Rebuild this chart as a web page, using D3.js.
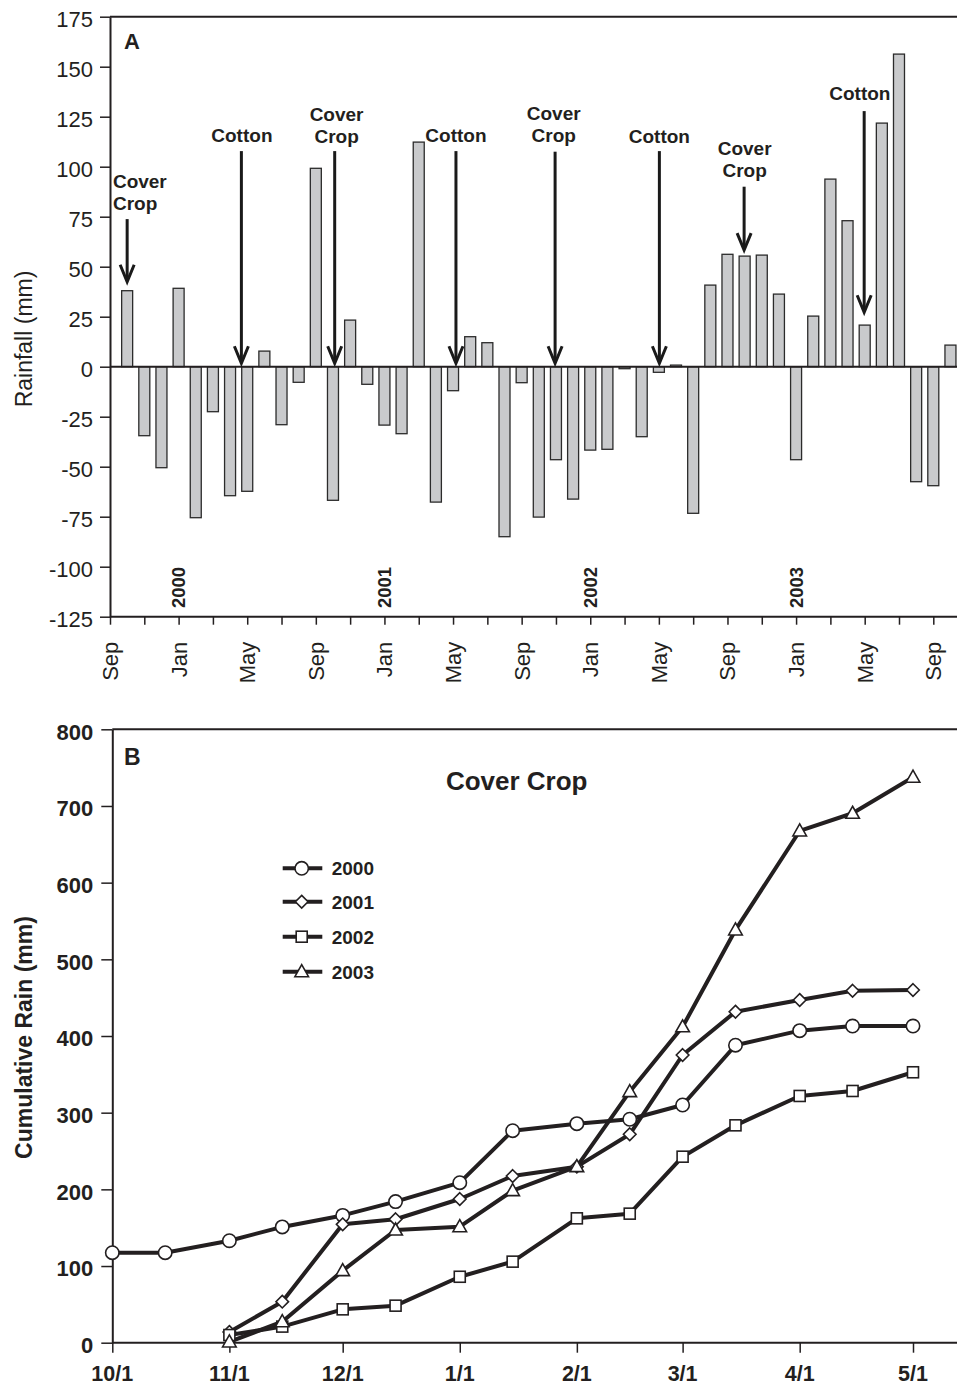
<!DOCTYPE html>
<html><head><meta charset="utf-8">
<script src="https://cdn.jsdelivr.net/npm/d3@7"></script>
<style>
body{margin:0;background:#fff}
svg{display:block}
text{font-family:"Liberation Sans",Arial,Helvetica,sans-serif;fill:#231f20}
</style>
</head><body>
<svg id="c" width="957" height="1386"></svg>
<script>
// ---------- Panel A data ----------
const rainFirstMonth = new Date(1999, 9, 1);   // Oct 1999
const rainLastMonth  = new Date(2003, 9, 1);   // Oct 2003
const rainfall = [38, -34.5, -50.5, 39.2, -75.5, -22.5, -64.5, -62.3, 7.8, -29, -7.8, 99.2,
  -66.8, 23.3, -8.8, -29.2, -33.5, 112.3, -67.7, -12, 15, 12, -85, -8,
  -75.2, -46.5, -66.2, -41.7, -41.3, -1, -35, -2.8, 0.8, -73.3, 40.8, 56.2,
  55.3, 55.8, 36.3, -46.5, 25.3, 93.8, 73, 20.8, 121.8, 156.3, -57.5, -59.5, 10.8];
const rainTicks = [-125, -100, -75, -50, -25, 0, 25, 50, 75, 100, 125, 150, 175];
const yearLabels = ["2000", "2001", "2002", "2003"];
const yearDates = [new Date(2000,0,1), new Date(2001,0,1), new Date(2002,0,1), new Date(2003,0,1)];
// annotations (month offset from Sep 1999, values in mm)
const annLabel = ["Cover Crop", "Cotton", "Cover Crop", "Cotton", "Cover Crop", "Cotton", "Cover Crop", "Cotton"];
const annArrowMonth = [1.0, 7.66, 13.1, 20.17, 25.95, 32.03, 36.97, 43.97];
const annArrowTop = [73.8, 107.8, 107.8, 107.8, 107.5, 107.8, 90, 127.8];
const annArrowTip = [42.5, 1.7, 1.7, 1.7, 1.7, 1.7, 58.3, 27.2];
const annTextMonth = [0.17, 7.69, 13.21, 20.17, 25.87, 32.03, 37.0, 43.72];
const annTextValue = [89.2, 112.2, 122.8, 112.3, 123.3, 112, 105.8, 133.3];

// ---------- Panel B data ----------
const cumDates = ["10/1","10/15","11/1","11/15","12/1","12/15","1/1","1/15","2/1","2/15","3/1","3/15","4/1","4/15","5/1"];
const seriesNames = ["2000", "2001", "2002", "2003"];
const cum2000 = [117.4, 117.4, 133, 151, 166, 184, 208.7, 276.5, 285.7, 291.4, 310, 388, 407, 413, 413];
const cum2001 = [null, null, 14, 53.5, 154.4, 161, 187.4, 217.4, 229.6, 271.8, 375.2, 431.7, 447, 459, 460];
const cum2002 = [null, null, 10, 21, 43.5, 48.3, 86, 105.7, 162.2, 168.3, 242.6, 283.5, 321.8, 328.3, 352.7];
const cum2003 = [null, null, 1, 27.4, 94, 147, 151.3, 198.3, 229.6, 327.4, 412, 538.3, 667.4, 690.5, 737.5];
const cumTicks = [0, 100, 200, 300, 400, 500, 600, 700, 800];
const markerTypes = ["circle", "diamond", "square", "triangle"];

// ---------- drawing ----------
const W = 957;
const ink = "#231f20";
const svg = d3.select("#c");
const FF = '"Liberation Sans",Arial,sans-serif';

// ===== Panel A =====
const axisStart = new Date(1999, 8, 1); // Sep 1999
const mi = d => d3.timeMonth.count(axisStart, d);
const xA = d3.scaleLinear().domain([0, 48]).range([110, 933.3]);
const yA = d3.scaleLinear().domain([-125, 175]).range([616.7, 16.7]);
const months = d3.timeMonth.range(rainFirstMonth, d3.timeMonth.offset(rainLastMonth, 1));
const bars = months.map((d, i) => ({date: d, v: rainfall[i]}));
const bw = 11;

const gA = svg.append("g");
gA.selectAll("rect.bar").data(bars).join("rect")
  .attr("class", "bar")
  .attr("x", d => xA(mi(d.date)) - bw / 2)
  .attr("width", bw)
  .attr("y", d => yA(Math.max(0, d.v)))
  .attr("height", d => Math.max(0.8, Math.abs(yA(d.v) - yA(0))))
  .attr("fill", "#c9cacc")
  .attr("stroke", "#2b2b2b")
  .attr("stroke-width", 1.3);

// frame lines
[175, 0, -125].forEach(v => {
  gA.append("line").attr("x1", xA(0)).attr("x2", W).attr("y1", yA(v)).attr("y2", yA(v))
    .attr("stroke", ink).attr("stroke-width", 2);
});

// y axis A
const yAxisA = gA.append("g").attr("transform", `translate(${xA(0)},0)`)
  .call(d3.axisLeft(yA).tickValues(rainTicks).tickSize(10).tickSizeOuter(0).tickPadding(7)
    .tickFormat(d => String(d)));
yAxisA.select(".domain").attr("stroke", ink).attr("stroke-width", 2);
yAxisA.selectAll(".tick line").attr("stroke", ink).attr("stroke-width", 1.5);
yAxisA.selectAll(".tick text").attr("font-size", 22).attr("dy", "0.43em").attr("fill", ink)
  .style("font-family", FF);

// x axis A (ticks every 2 months, labels every 4)
const tickIdx = d3.range(0, 49, 2);
const fmtMon = d3.timeFormat("%b");
const xAxisA = gA.append("g").attr("transform", `translate(0,${yA(-125)})`)
  .call(d3.axisBottom(xA).tickValues(tickIdx).tickSize(8).tickSizeOuter(0)
    .tickFormat(i => i % 4 === 0 ? fmtMon(d3.timeMonth.offset(axisStart, i)) : ""));
xAxisA.select(".domain").remove();
xAxisA.selectAll(".tick line").attr("stroke", ink).attr("stroke-width", 1.5);
xAxisA.selectAll(".tick text")
  .attr("transform", "rotate(-90)")
  .attr("text-anchor", "end")
  .attr("x", -25).attr("y", 0).attr("dy", "0.34em")
  .attr("font-size", 22).attr("fill", ink)
  .style("font-family", FF);

// year labels
gA.selectAll("text.year").data(yearLabels).join("text")
  .attr("class", "year")
  .attr("transform", (d, i) => `translate(${xA(mi(yearDates[i])) + 6.5},608) rotate(-90)`)
  .attr("font-size", 18.5).attr("font-weight", "bold")
  .text(d => d);

// y label A
svg.append("text")
  .attr("transform", "translate(31.5,339) rotate(-90)")
  .attr("text-anchor", "middle").attr("font-size", 23)
  .text("Rainfall (mm)");

// panel label A
svg.append("text").attr("x", 124).attr("y", 49).attr("font-size", 22).attr("font-weight", "bold").text("A");

// annotations
annLabel.forEach((lab, i) => {
  const ax = xA(annArrowMonth[i]);
  const y0 = yA(annArrowTop[i]), y1 = yA(annArrowTip[i]);
  gA.append("line").attr("x1", ax).attr("x2", ax).attr("y1", y0).attr("y2", y1 - 2)
    .attr("stroke", "#1a1a1a").attr("stroke-width", 3);
  gA.append("path")
    .attr("d", `M${ax - 7},${y1 - 17} L${ax},${y1} L${ax + 7},${y1 - 17}`)
    .attr("fill", "none").attr("stroke", "#1a1a1a").attr("stroke-width", 3)
    .attr("stroke-linejoin", "miter");
  const lines = lab === "Cover Crop" ? ["Cover", "Crop"] : [lab];
  const t = gA.append("text")
    .attr("x", xA(annTextMonth[i])).attr("y", yA(annTextValue[i]))
    .attr("text-anchor", i === 0 ? "start" : "middle")
    .attr("font-size", 19).attr("font-weight", "bold");
  lines.forEach((l, k) => {
    t.append("tspan").attr("x", xA(annTextMonth[i])).attr("dy", k === 0 ? 0 : 21.5).text(l);
  });
});

// ===== Panel B =====
const parseMD = s => { const [m, d] = s.split("/").map(Number); return new Date(m >= 10 ? 2000 : 2001, m - 1, d); };
const xB = d3.scaleTime().domain([new Date(2000, 9, 1), new Date(2001, 4, 1)]).range([112.3, 913]);
const yB = d3.scaleLinear().domain([0, 800]).range([1342.7, 729.3]);
const gB = svg.append("g");

[800, 0].forEach(v => {
  gB.append("line").attr("x1", xB.range()[0]).attr("x2", W).attr("y1", yB(v)).attr("y2", yB(v))
    .attr("stroke", ink).attr("stroke-width", 2);
});

const yAxisB = gB.append("g").attr("transform", `translate(${xB.range()[0]},0)`)
  .call(d3.axisLeft(yB).tickValues(cumTicks).tickSize(11).tickSizeOuter(0).tickPadding(8));
yAxisB.select(".domain").attr("stroke", ink).attr("stroke-width", 2);
yAxisB.selectAll(".tick line").attr("stroke", ink).attr("stroke-width", 1.5);
yAxisB.selectAll(".tick text").attr("font-size", 22).attr("font-weight", "bold").attr("dy", "0.45em")
  .attr("fill", ink).style("font-family", FF);

const monthTicks = d3.timeMonth.range(new Date(2000, 9, 1), new Date(2001, 4, 2));
const xAxisB = gB.append("g").attr("transform", `translate(0,${yB(0)})`)
  .call(d3.axisBottom(xB).tickValues(monthTicks).tickSize(10).tickSizeOuter(0)
    .tickFormat(d3.timeFormat("%-m/%-d")));
xAxisB.select(".domain").remove();
xAxisB.selectAll(".tick text").remove();
xAxisB.selectAll(".tick line").attr("stroke", ink).attr("stroke-width", 1.5);
gB.selectAll("text.xlabB").data(monthTicks).join("text")
  .attr("class", "xlabB")
  .attr("x", d => xB(d)).attr("y", 1381)
  .attr("text-anchor", "middle")
  .attr("font-size", 21.5).attr("font-weight", "bold")
  .text(d3.timeFormat("%-m/%-d"));

svg.append("text")
  .attr("transform", "translate(31.5,1037.5) rotate(-90)")
  .attr("text-anchor", "middle").attr("font-size", 23).attr("font-weight", "bold")
  .text("Cumulative Rain (mm)");
svg.append("text").attr("x", 124).attr("y", 765).attr("font-size", 23).attr("font-weight", "bold").text("B");
svg.append("text").attr("x", 516.7).attr("y", 790).attr("text-anchor", "middle")
  .attr("font-size", 26).attr("font-weight", "bold").text("Cover Crop");

const allSeries = [cum2000, cum2001, cum2002, cum2003].map((vals, si) => ({
  name: seriesNames[si], marker: markerTypes[si],
  pts: cumDates.map((d, i) => ({date: parseMD(d), v: vals[i]})).filter(p => p.v !== null)
}));

const line = d3.line().x(p => xB(p.date)).y(p => yB(p.v));
function drawMarker(g, type, x, y) {
  const common = s => s.attr("fill", "#fff").attr("stroke", ink).attr("stroke-width", 1.6);
  if (type === "circle") common(g.append("circle").attr("cx", x).attr("cy", y).attr("r", 6.7));
  else if (type === "diamond") common(g.append("path").attr("d", `M${x},${y - 6.3}L${x + 6.3},${y}L${x},${y + 6.3}L${x - 6.3},${y}Z`));
  else if (type === "square") common(g.append("rect").attr("x", x - 5.5).attr("y", y - 5.5).attr("width", 11).attr("height", 11));
  else common(g.append("path").attr("d", `M${x},${y - 7}L${x + 6.8},${y + 5}L${x - 6.8},${y + 5}Z`));
}

allSeries.forEach(s => {
  gB.append("path").datum(s.pts).attr("d", line)
    .attr("fill", "none").attr("stroke", ink).attr("stroke-width", 4).attr("stroke-linejoin", "round");
});
allSeries.forEach(s => {
  s.pts.forEach(p => drawMarker(gB, s.marker, xB(p.date), yB(p.v)));
});

// legend
const legY = [868.3, 901.7, 936.7, 971.7];
allSeries.forEach((s, i) => {
  gB.append("line").attr("x1", 282.7).attr("x2", 322.3).attr("y1", legY[i]).attr("y2", legY[i])
    .attr("stroke", ink).attr("stroke-width", 4);
  drawMarker(gB, s.marker, 301.7, legY[i]);
  gB.append("text").attr("x", 331.7).attr("y", legY[i] + 7).attr("font-size", 19)
    .attr("font-weight", "bold").text(s.name);
});
</script>
</body></html>
